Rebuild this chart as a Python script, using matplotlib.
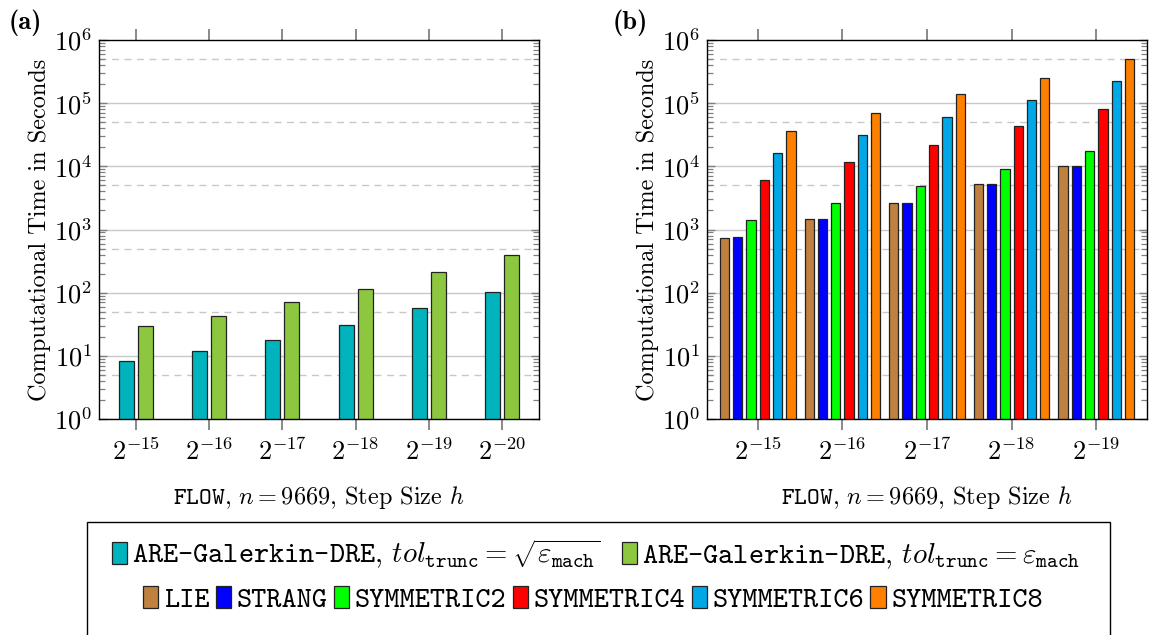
import numpy as np
import matplotlib
matplotlib.use("Agg")
import matplotlib.pyplot as plt
from matplotlib.patches import Patch, Rectangle
from matplotlib.ticker import LogLocator, NullFormatter

plt.rcParams['font.family'] = 'cmr10'
plt.rcParams['mathtext.fontset'] = 'cm'
plt.rcParams['axes.formatter.use_mathtext'] = True

## panel (a): ARE-Galerkin-DRE, two truncation tolerances
exps_a = [15, 16, 17, 18, 19, 20]
galerkin_sqrt = [8.4, 11.8, 17.8, 30.7, 56.3, 104]
galerkin_mach = [29.9, 42, 71.7, 115, 214, 397]

## panel (b): splitting schemes
exps_b = [15, 16, 17, 18, 19]
lie = [746, 1440, 2670, 5270, 10030]
strang = [764, 1440, 2670, 5210, 10280]
sym2 = [1400, 2610, 4840, 9100, 17500]
sym4 = [6030, 11740, 22100, 43000, 80900]
sym6 = [16100, 31400, 59700, 113600, 227000]
sym8 = [35900, 70800, 138000, 253000, 493000]

names_a = [r'ARE-Galerkin-DRE$,\,tol_{\mathtt{trunc}} = \sqrt{\varepsilon_{\mathtt{mach}}}$',
           r'ARE-Galerkin-DRE$,\,tol_{\mathtt{trunc}} = \varepsilon_{\mathtt{mach}}$']
names_b = ['LIE', 'STRANG', 'SYMMETRIC2', 'SYMMETRIC4', 'SYMMETRIC6', 'SYMMETRIC8']

colors_a = ['#00B3BD', '#8DC63F']
colors_b = ['#BF8040', '#0000FF', '#00FF00', '#FF0000', '#00A8E8', '#FF8000']

FS_TICK = 19
FS_LAB = 17.5
FS_LEG = 20.8
GRID = '#c8c8c8'
TICK = '#808080'

fig = plt.figure(figsize=(11.55, 6.35), dpi=100)
ax_a = fig.add_axes([99 / 1155, 1 - 419 / 635, 440 / 1155, 379 / 635])
ax_b = fig.add_axes([707 / 1155, 1 - 419 / 635, 440 / 1155, 379 / 635])


def style_axis(ax, exps, xpad):
    ax.set_yscale('log')
    ax.set_ylim(1, 1e6)
    ax.set_xlim(-xpad, len(exps) - 1 + xpad)
    ax.set_xticks(np.arange(len(exps)))
    ax.set_xticklabels([r'$2^{-%d}$' % e for e in exps], fontsize=FS_TICK)
    ax.yaxis.set_major_locator(LogLocator(base=10, numticks=10))
    ax.yaxis.set_minor_locator(LogLocator(base=10, subs=np.arange(2, 10), numticks=100))
    ax.yaxis.set_minor_formatter(NullFormatter())
    ax.tick_params(axis='y', which='major', direction='in', length=6, width=1,
                   color=TICK, left=True, right=True, labelsize=FS_TICK, pad=5)
    ax.tick_params(axis='y', which='minor', direction='in', length=4, width=0.9,
                   color=TICK, left=True, right=True)
    ax.tick_params(axis='x', which='major', direction='out', length=8, width=1.3,
                   color=TICK, top=True, bottom=True, labelsize=FS_TICK, pad=6)
    ax.tick_params(axis='x', which='minor', bottom=False, top=False)
    # solid lines at decades, dashed at 5*10^k
    for k in range(0, 6):
        ax.axhline(10 ** k, color=GRID, lw=1.0, zorder=0)
        ax.axhline(5 * 10 ** k, color=GRID, lw=1.0, ls=(0, (5, 4)), zorder=0)
    for s in ax.spines.values():
        s.set_linewidth(1.0)
    ax.set_ylabel('Computational Time in Seconds', fontsize=FS_LAB, labelpad=2)
    ax.set_xlabel(r'$\mathtt{FLOW}$, $n = 9669$, Step Size $h$', fontsize=FS_LAB, labelpad=13.5)


# panel (a)
x = np.arange(len(exps_a))
w = 0.205
ax_a.bar(x - 0.13, galerkin_sqrt, w, color=colors_a[0], edgecolor='#222222', lw=0.9, zorder=2)
ax_a.bar(x + 0.13, galerkin_mach, w, color=colors_a[1], edgecolor='#222222', lw=0.9, zorder=2)
style_axis(ax_a, exps_a, 0.5)

# panel (b)
xb = np.arange(len(exps_b))
series_b = [lie, strang, sym2, sym4, sym6, sym8]
step = 0.157
wb = 0.11
for i, (vals, c) in enumerate(zip(series_b, colors_b)):
    ax_b.bar(xb + (i - 2.5) * step, vals, wb, color=c, edgecolor='#222222', lw=0.9, zorder=2)
style_axis(ax_b, exps_b, 0.6)

fig.text(9 / 1155, 1 - 23 / 635, '(a)', fontfamily='cmb10', fontsize=19, va='center', ha='left')
fig.text(613 / 1155, 1 - 23 / 635, '(b)', fontfamily='cmb10', fontsize=19, va='center', ha='left')

# shared legend box
fig.patches.append(Rectangle((87 / 1155, -0.05), (1110 - 87) / 1155, 0.05 + 1 - 522 / 635,
                             transform=fig.transFigure, fill=False, edgecolor='black', lw=1.0))

h_a = [Patch(facecolor=c, edgecolor='#222222', lw=0.9) for c in colors_a]
h_b = [Patch(facecolor=c, edgecolor='#222222', lw=0.9) for c in colors_b]
leg_kw = dict(frameon=False, handlelength=0.52, handleheight=0.8, handletextpad=0.2,
              borderpad=0, borderaxespad=0, prop={'family': 'cmtt10', 'size': FS_LEG})
fig.legend(h_a, names_a, loc='center', bbox_to_anchor=(596 / 1155, 1 - 554 / 635),
           ncol=2, columnspacing=0.7, **leg_kw)
fig.legend(h_b, names_b, loc='center', bbox_to_anchor=(593 / 1155, 1 - 600 / 635),
           ncol=6, columnspacing=0.22, **leg_kw)

fig.savefig('out.png', dpi=100)
